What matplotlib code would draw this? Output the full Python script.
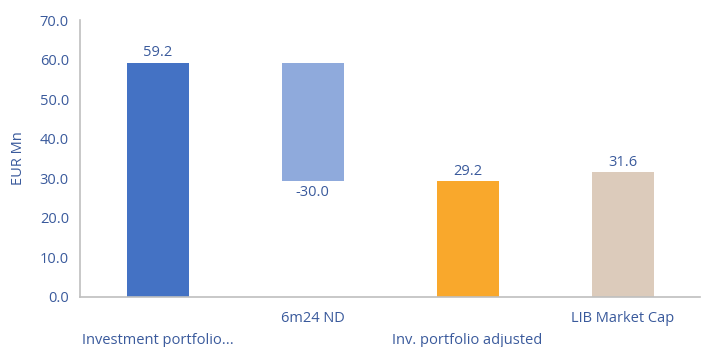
import matplotlib
matplotlib.use("Agg")
import matplotlib.pyplot as plt

categories = ["Investment portfolio...", "6m24 ND", "Inv. portfolio adjusted", "LIB Market Cap"]
values = [59.2, -30.0, 29.2, 31.6]
is_total = [True, False, True, True]
colors = ["#4472C4", "#8FAADC", "#F9A82C", "#DCCBBB"]
yticks = [0, 10, 20, 30, 40, 50, 60, 70]

txt = "#3A5A9C"
plt.rcParams["font.family"] = ["Open Sans", "DejaVu Sans"]

fig = plt.figure(figsize=(7.07, 3.47), dpi=100)
ax = fig.add_axes([80/707, 50/347, 620/707, 277/347])

bottoms, heights = [], []
running = 0.0
for v, t in zip(values, is_total):
    if t:
        bottoms.append(0.0)
        heights.append(v)
        running = v
    else:
        new = running + v
        bottoms.append(min(running, new))
        heights.append(abs(v))
        running = new

x = list(range(len(categories)))
ax.bar(x, heights, bottom=bottoms, width=0.4, color=colors, zorder=2)

for i, (v, b, h) in enumerate(zip(values, bottoms, heights)):
    if v >= 0:
        ax.text(i, b + h + 0.6, f"{v:.1f}", ha="center", va="bottom", color=txt, fontsize=10.5)
    else:
        ax.text(i, b - 1.0, f"{v:.1f}", ha="center", va="top", color=txt, fontsize=10.5)

ax.set_xlim(-0.5, len(categories) - 0.5)
ax.set_ylim(0, 70)
ax.set_yticks(yticks)
ax.set_yticklabels([f"{t:.1f}" for t in yticks], color=txt, fontsize=10.5)
ax.set_xticks(x)
ax.set_xticklabels([])
for i, c in enumerate(categories):
    off = -43 if i % 2 == 0 else -22
    ax.annotate(c, (i, 0), xytext=(0, off), textcoords="offset points" if False else "offset pixels",
                ha="center", va="center", color=txt, fontsize=10.5, annotation_clip=False)
ax.tick_params(axis="both", length=0, pad=8)
ax.set_ylabel("EUR Mn", color=txt, fontsize=10.5, labelpad=10)
for s in ["top", "right"]:
    ax.spines[s].set_visible(False)
for s in ["left", "bottom"]:
    ax.spines[s].set_color("#BFBFBF")
    ax.spines[s].set_linewidth(1.2)

fig.savefig("out.png", dpi=100)
